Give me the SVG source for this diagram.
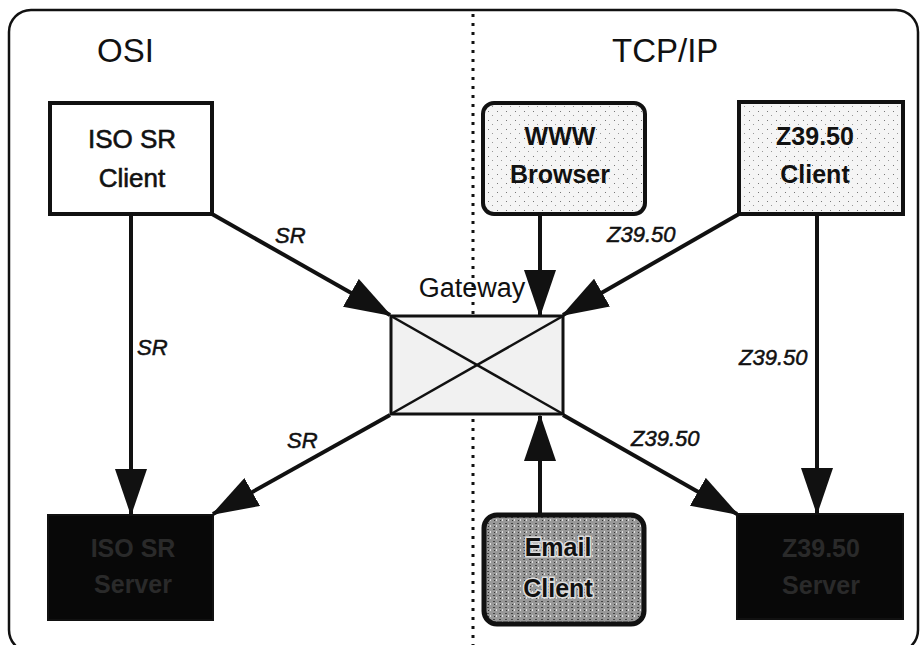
<svg xmlns="http://www.w3.org/2000/svg" width="922" height="645" viewBox="0 0 922 645">
<defs>
<style>
.frame{fill:#fff;stroke:#111;stroke-width:2.5}
.divider{stroke:#111;stroke-width:3;stroke-dasharray:3 6}
.box{stroke:#111;stroke-width:4}
.title{font-family:"Liberation Sans",Arial,sans-serif;font-size:33px;fill:#111}
.node{font-family:"Liberation Sans",Arial,sans-serif;font-size:25px;font-weight:bold;fill:#111;text-anchor:middle}
.nodeR{font-family:"Liberation Sans",Arial,sans-serif;font-size:26px;fill:#111;stroke:#111;stroke-width:0.6;text-anchor:middle}
.dark{font-family:"Liberation Sans",Arial,sans-serif;font-size:25px;font-weight:bold;fill:#2a2a2a;text-anchor:middle}
.lbl{font-family:"Liberation Sans",Arial,sans-serif;font-size:22px;font-style:italic;fill:#111;stroke:#111;stroke-width:0.5}
.conn{stroke:#111;stroke-width:4;fill:none;marker-end:url(#ah)}
</style>
<marker id="ah" viewBox="0 0 47 32" refX="45" refY="16" markerWidth="47" markerHeight="32" markerUnits="userSpaceOnUse" orient="auto">
<path d="M0,0 L47,16 L0,32 z" fill="#111"/>
</marker>
<pattern id="speck" width="9" height="9" patternUnits="userSpaceOnUse">
<rect width="9" height="9" fill="#f5f5f5"/>
<rect x="2" y="3" width="1" height="1" fill="#777"/>
<rect x="6" y="7" width="1" height="1" fill="#999"/>
</pattern>
<pattern id="grain" width="6" height="6" patternUnits="userSpaceOnUse">
<rect width="6" height="6" fill="#989898"/>
<rect x="1" y="1" width="2" height="1" fill="#444"/>
<rect x="4" y="3" width="1" height="2" fill="#e0e0e0"/>
<rect x="2" y="4" width="1" height="1" fill="#333"/>
</pattern>
</defs>

<rect class="frame" x="9" y="10" width="909" height="642" rx="22"/>
<line class="divider" x1="473" y1="14" x2="473" y2="645"/>

<text class="title" x="97" y="62">OSI</text>
<text class="title" x="612" y="62">TCP/IP</text>

<g id="gateway">
<rect x="391" y="316" width="172" height="98" fill="#f1f1f1" stroke="#111" stroke-width="3"/>
<line x1="391" y1="316" x2="563" y2="414" stroke="#111" stroke-width="2.5"/>
<line x1="391" y1="414" x2="563" y2="316" stroke="#111" stroke-width="2.5"/>
<text x="472" y="297" font-family="Liberation Sans, Arial, sans-serif" font-size="27" fill="#111" text-anchor="middle">Gateway</text>
</g>

<g id="connectors">
<line class="conn" x1="131" y1="214" x2="131" y2="514"/>
<line class="conn" x1="212" y1="214" x2="390" y2="315"/>
<line class="conn" x1="390" y1="415" x2="213" y2="514"/>
<line class="conn" x1="540" y1="216" x2="540" y2="315"/>
<line class="conn" x1="739" y1="214" x2="563" y2="315"/>
<line class="conn" x1="817" y1="214" x2="817" y2="513"/>
<line class="conn" x1="563" y1="415" x2="737" y2="514"/>
<line class="conn" x1="540" y1="513" x2="540" y2="416"/>
<text class="lbl" x="275" y="243">SR</text>
<text class="lbl" x="137" y="355">SR</text>
<text class="lbl" x="287" y="448">SR</text>
<text class="lbl" x="607" y="242">Z39.50</text>
<text class="lbl" x="739" y="365">Z39.50</text>
<text class="lbl" x="631" y="446">Z39.50</text>
</g>

<g id="iso-sr-client">
<rect class="box" x="50" y="103" width="162" height="111" fill="#fff" stroke-width="3.5"/>
<text class="nodeR" x="132" y="148">ISO SR</text>
<text class="nodeR" x="132" y="187">Client</text>
</g>

<g id="www-browser">
<rect class="box" x="483" y="103" width="162" height="111" rx="11" fill="url(#speck)" stroke-width="4.5"/>
<text class="node" x="560" y="145">WWW</text>
<text class="node" x="560" y="183">Browser</text>
</g>

<g id="z3950-client">
<rect class="box" x="739" y="102" width="164" height="112" fill="url(#speck)"/>
<text class="node" x="815" y="145">Z39.50</text>
<text class="node" x="815" y="183">Client</text>
</g>

<g id="iso-sr-server">
<rect x="48" y="515" width="165" height="105" fill="#080808" stroke="#111" stroke-width="2"/>
<text class="dark" x="133" y="557">ISO SR</text>
<text class="dark" x="133" y="593">Server</text>
</g>

<g id="z3950-server">
<rect x="737" y="514" width="166" height="105" fill="#080808" stroke="#111" stroke-width="2"/>
<text class="dark" x="821" y="557">Z39.50</text>
<text class="dark" x="821" y="594">Server</text>
</g>

<g id="email-client">
<rect x="484" y="515" width="160" height="109" rx="13" fill="url(#grain)" stroke="#111" stroke-width="5"/>
<text class="node" x="558" y="556" stroke="#ddd" stroke-width="3" paint-order="stroke" font-size="27">Email</text>
<text class="node" x="558" y="597" stroke="#ddd" stroke-width="3" paint-order="stroke" font-size="27">Client</text>
</g>
</svg>
